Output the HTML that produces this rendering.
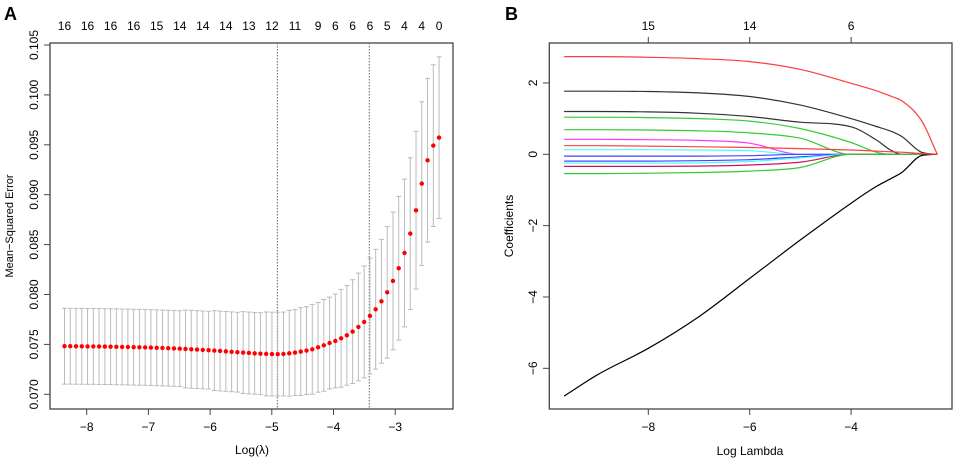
<!DOCTYPE html>
<html><head><meta charset="utf-8"><style>
body{margin:0;background:#fff;}
svg{display:block;font-family:"Liberation Sans",sans-serif;}
</style></head><body>
<svg id="fig" width="957" height="461" viewBox="0 0 957 461">
<text x="4" y="20" font-size="18" font-weight="bold">A</text>
<text x="505" y="20" font-size="18" font-weight="bold">B</text>
<g id="pa"></g>
<g id="pb"></g>
</svg>
<script>
// Panel A data
const mseMeans = [0.07482,0.07482,0.07481,0.07481,0.0748,0.0748,0.07479,0.07478,0.07477,0.07476,0.07475,
0.07474,0.07472,0.07471,0.0747,0.07468,0.07466,0.07464,0.07462,0.0746,0.07457,
0.07454,0.07451,0.07448,0.07445,0.07442,0.07438,0.07434,0.0743,0.07426,0.07422,
0.07418,0.07414,0.0741,0.07407,0.07405,0.07403,0.07402,
0.07404,0.07411,0.07418,0.07428,0.07438,0.07451,0.07471,0.07491,0.07514,0.07534,0.07561,0.07591,0.07628,0.07675,0.07725,0.07785,0.07852,0.07932,0.08022,0.08136,0.08263,0.08416,0.0861,0.08844,0.09111,0.09345,0.09492,0.09572];
const mseSE = [0.0038,0.0038,0.0038,0.0038,0.0038,0.0038,0.0038,0.0038,0.0038,0.0038,0.0038,
0.0038,0.0038,0.0038,0.0038,0.0038,0.0038,0.0038,0.0038,0.0038,0.0038,
0.0039,0.0039,0.0039,0.0039,0.0039,0.004,0.004,0.004,0.004,0.004,
0.0041,0.0041,0.0041,0.0041,0.0042,0.0042,0.0042,
0.0042,0.0043,0.0043,0.0044,0.0044,0.0045,0.0045,0.0046,0.0046,0.0047,0.0049,0.005,0.0052,0.0054,0.0056,0.0058,0.006,0.0062,0.0066,0.0069,0.0072,0.0074,0.0076,0.0079,0.0082,0.0082,0.0081,0.0081];
const logLamStart = -8.36, logLamStep = 0.0934;
const nzeroLabels = ["16","16","16","16","15","14","14","14","13","12","11","9","6","6","6","5","4","4","0"];
const nzeroIdx = [0,4,8,12,16,20,24,28,32,36,40,44,47,50,53,56,59,62,65];
const aXTicks = [-8,-7,-6,-5,-4,-3];
const aYTicks = [0.070,0.075,0.080,0.085,0.090,0.095,0.100,0.105];
const lambdaMin = -4.91, lambda1se = -3.42;

// Panel B data
const knots = [-9.66,-9,-8,-7,-6,-5,-4,-3.5,-3.2,-3,-2.6,-2.3];
const pathColors = ["#ff3b3b","#333","#333","#3c3","#3c3","#f3f","#ff4040","#4ff","#44f","#44f","#4ff","#d0105f","#3c3","#000"];
const paths = [
 [2.74,2.74,2.72,2.68,2.6,2.38,1.99,1.78,1.62,1.5,0.92,0],
 [1.77,1.77,1.76,1.72,1.62,1.38,1.0,0.78,0.64,0.5,0.05,0],
 [1.2,1.2,1.19,1.15,1.06,0.9,0.77,0.4,0.1,0,0,0],
 [1.04,1.04,1.03,1.0,0.93,0.72,0.33,0.06,0,0,0,0],
 [0.69,0.69,0.68,0.66,0.6,0.45,0,0,0,0,0,0],
 [0.42,0.42,0.41,0.39,0.31,0,0,0,0,0,0,0],
 [0.24,0.24,0.23,0.21,0.19,0.16,0.12,0.09,0.07,0.06,0.02,0],
 [0.13,0.13,0.13,0.12,0.1,0,0,0,0,0,0,0],
 [-0.05,-0.05,-0.05,-0.05,-0.04,0,0,0,0,0,0,0],
 [-0.19,-0.19,-0.19,-0.18,-0.15,-0.07,0,0,0,0,0,0],
 [-0.25,-0.25,-0.25,-0.24,-0.2,-0.1,0,0,0,0,0,0],
 [-0.34,-0.34,-0.34,-0.33,-0.3,-0.22,0,0,0,0,0,0],
 [-0.54,-0.54,-0.53,-0.51,-0.47,-0.37,0,0,0,0,0,0],
 [-6.78,-6.18,-5.44,-4.55,-3.48,-2.4,-1.37,-0.9,-0.67,-0.51,-0.03,0]
];
const bXTicks = [-8,-6,-4];
const bTopLabels = ["15","14","6"];
const bYTicks = [-6,-4,-2,0,2];

const NS="http://www.w3.org/2000/svg";
function mk(parent,tag,attrs,text){const e=document.createElementNS(NS,tag);for(const k in attrs)e.setAttribute(k,attrs[k]);if(text!==undefined)e.textContent=text;parent.appendChild(e);return e;}

// monotone cubic path (Fritsch-Carlson)
function monoPath(xs,ys){
 const n=xs.length,d=[],m=[];
 for(let i=0;i<n-1;i++)d.push((ys[i+1]-ys[i])/(xs[i+1]-xs[i]));
 m[0]=d[0];m[n-1]=d[n-2];
 for(let i=1;i<n-1;i++){m[i]=(d[i-1]*d[i]<=0)?0:(d[i-1]+d[i])/2;}
 for(let i=0;i<n-1;i++){
  if(d[i]===0){m[i]=0;m[i+1]=0;continue;}
  const a=m[i]/d[i],b=m[i+1]/d[i],s=a*a+b*b;
  if(s>9){const t=3/Math.sqrt(s);m[i]=t*a*d[i];m[i+1]=t*b*d[i];}
 }
 let p='M'+xs[0].toFixed(1)+','+ys[0].toFixed(1);
 for(let i=0;i<n-1;i++){
  const h=(xs[i+1]-xs[i])/3;
  p+=' C'+(xs[i]+h).toFixed(1)+','+(ys[i]+m[i]*h).toFixed(1)+' '+(xs[i+1]-h).toFixed(1)+','+(ys[i+1]-m[i+1]*h).toFixed(1)+' '+xs[i+1].toFixed(1)+','+ys[i+1].toFixed(1);
 }
 return p;
}

// ---- Panel A ----
const pa=document.getElementById('pa');
const ax=v=>86.7+(v+8)*61.7;
const ay=v=>394.3-(v-0.070)/0.005*49.9;
let f=mk(pa,'rect',{x:50,y:43,width:403,height:366,fill:'none',stroke:'#444','stroke-width':1.3});


aXTicks.forEach(t=>{
 const l=mk(pa,'line',{x1:ax(t),x2:ax(t),y1:409,y2:415,stroke:'#444'});
 
 
 const tx=mk(pa,'text',{x:ax(t),y:431,'font-size':12,'text-anchor':'middle'},'\u2212'+Math.abs(t));
 
 
});
aYTicks.forEach(t=>{
 const l=mk(pa,'line',{x1:44,x2:50,y1:ay(t),y2:ay(t),stroke:'#444'});
 
 
 const tx=mk(pa,'text',{x:0,y:0,'font-size':12,'text-anchor':'middle',transform:`translate(38,${ay(t)}) rotate(-90)`},t.toFixed(3));
 
 
});
let t1=mk(pa,'text',{x:252,y:454,'font-size':12,'text-anchor':'middle'},'Log(\u03bb)');


let t2=mk(pa,'text',{x:0,y:0,'font-size':11,'text-anchor':'middle',transform:'translate(13,226) rotate(-90)'},'Mean\u2212Squared Error');


[lambdaMin,lambda1se].forEach(v=>{
 const l=mk(pa,'line',{x1:ax(v),x2:ax(v),y1:43,y2:409,stroke:'#666','stroke-dasharray':'1.5,1.5'});
 
 
});
mseMeans.forEach((m,i)=>{
 const x=ax(logLamStart+i*logLamStep);
 const s=mseSE[i];
 const g=mk(pa,'g',{stroke:'#bbb','stroke-width':1});
 
 
 mk(g,'line',{x1:x,x2:x,y1:ay(m+s),y2:ay(m-s)});
 mk(g,'line',{x1:x-2.5,x2:x+2.5,y1:ay(m+s),y2:ay(m+s)});
 mk(g,'line',{x1:x-2.5,x2:x+2.5,y1:ay(m-s),y2:ay(m-s)});
});
mseMeans.forEach((m,i)=>{
 const c=mk(pa,'circle',{cx:ax(logLamStart+i*logLamStep),cy:ay(m),r:2.2,fill:'#f00'});
 
 
});
nzeroIdx.forEach((idx,j)=>{
 const tx=mk(pa,'text',{x:ax(logLamStart+idx*logLamStep),y:30,'font-size':12,'text-anchor':'middle'},nzeroLabels[j]);
 
 
});

// ---- Panel B ----
const pb=document.getElementById('pb');
const bx=v=>648.3+(v+8)*50.7;
const by=v=>154.3-v*35.67;
let f2=mk(pb,'rect',{x:549.3,y:43,width:402.7,height:366,fill:'none',stroke:'#444','stroke-width':1.3});


bXTicks.forEach((t,j)=>{
 const l=mk(pb,'line',{x1:bx(t),x2:bx(t),y1:409,y2:415,stroke:'#444'});
 
 
 const tx=mk(pb,'text',{x:bx(t),y:431,'font-size':12,'text-anchor':'middle'},'\u2212'+Math.abs(t));
 
 
 const l2=mk(pb,'line',{x1:bx(t),x2:bx(t),y1:37,y2:43,stroke:'#444'});
 
 
 const t3=mk(pb,'text',{x:bx(t),y:30,'font-size':12,'text-anchor':'middle'},bTopLabels[j]);
 
 
});
bYTicks.forEach(t=>{
 const l=mk(pb,'line',{x1:543,x2:549.3,y1:by(t),y2:by(t),stroke:'#444'});
 
 
 const tx=mk(pb,'text',{x:0,y:0,'font-size':12,'text-anchor':'middle',transform:`translate(537,${by(t)}) rotate(-90)`},t<0?'\u2212'+Math.abs(t):String(t));
 
 
});
let t4=mk(pb,'text',{x:750,y:455,'font-size':12,'text-anchor':'middle'},'Log Lambda');


let t5=mk(pb,'text',{x:0,y:0,'font-size':12,'text-anchor':'middle',transform:'translate(513,226) rotate(-90)'},'Coefficients');


const order=[1,2,3,4,5,7,8,9,10,11,12,13,6,0];
order.forEach(k=>{
 const xs=knots.map(bx), ys=paths[k].map(by);
 const p=mk(pb,'path',{d:monoPath(xs,ys),fill:'none',stroke:pathColors[k],'stroke-width':1.2,'stroke-linejoin':'round'});
 
 
});
</script>
</body></html>
